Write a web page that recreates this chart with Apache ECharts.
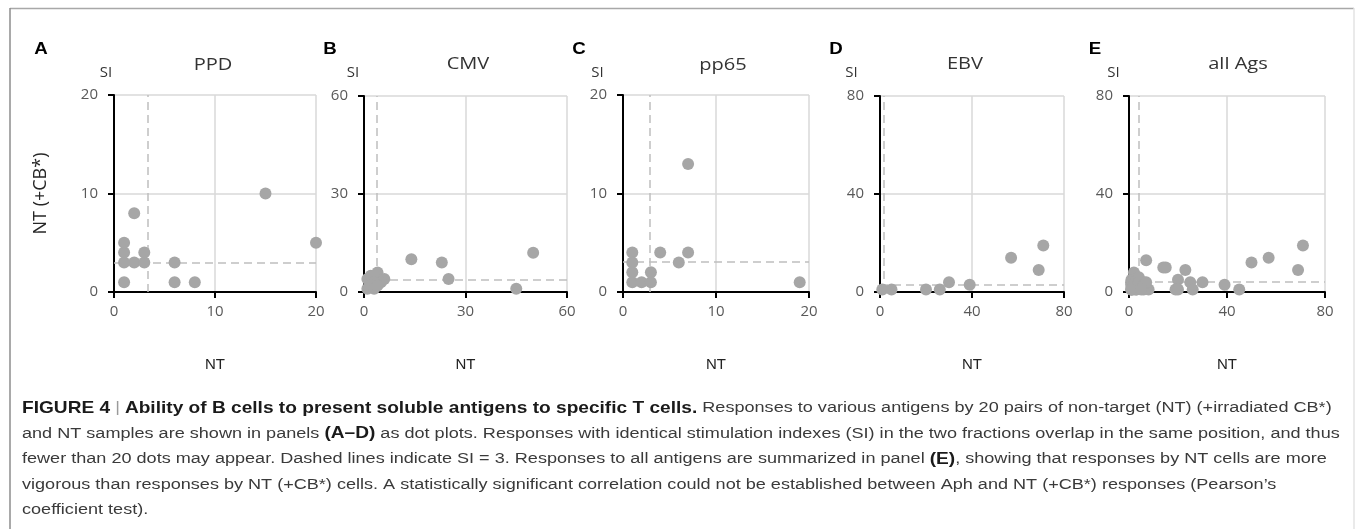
<!DOCTYPE html>
<html>
<head>
<meta charset="utf-8">
<script src="https://cdn.jsdelivr.net/npm/echarts@6/dist/echarts.min.js"></script>
<style>
html,body{margin:0;padding:0;background:#fff;}
#chart{width:1355px;height:529px;}
</style>
</head>
<body>
<div id="chart"></div>
<script>
// ---- data (NT SI, NT(+CB*) SI) ----
const ppd  = [[1,1],[1,3],[1,4],[1,5],[2,3],[2,8],[3,3],[3,4],[6,3],[6,1],[8,1],[15,10],[20,5]];
const cmv  = [[1,4],[2,5],[4,6],[6,4],[5,3],[3,3],[2,2],[1,1],[3,1],[4,2],[14,10],[23,9],[25,4],[45,1],[50,12]];
const pp65 = [[1,4],[1,3],[1,2],[1,1],[2,1],[3,1],[3,2],[4,4],[6,3],[7,4],[7,13],[19,1]];
const ebv  = [[1,1],[5,1],[20,1],[26,1],[30,4],[39,3],[57,14],[69,9],[71,19]];
const allAgs = [...ppd, ...cmv, ...pp65, ...ebv];

const panelData   = [ppd, cmv, pp65, ebv, allAgs];
const panelTitles = ['PPD', 'CMV', 'pp65', 'EBV', 'all Ags'];
const panelLetters = ['A', 'B', 'C', 'D', 'E'];
const axisMax      = [20, 60, 20, 80, 80];
const axisInterval = [10, 30, 10, 40, 40];
const cutoffX = [3.3, 3.9, 2.9, 1.5, 3.8];
const cutoffY = [3, 3.9, 3.1, 3, 4];
const captionLines = [
  '{b|FIGURE 4} {g|\u007C} {b|Ability of B cells to present soluble antigens to specific T cells.} Responses to various antigens by 20 pairs of non-target (NT) (+irradiated CB*)',
  'and NT samples are shown in panels {b|(A\u2013D)} as dot plots. Responses with identical stimulation indexes (SI) in the two fractions overlap in the same position, and thus',
  'fewer than 20 dots may appear. Dashed lines indicate SI = 3. Responses to all antigens are summarized in panel {b|(E)}, showing that responses by NT cells are more',
  'vigorous than responses by NT (+CB*) cells. A statistically significant correlation could not be established between Aph and NT (+CB*) responses (Pearson\u2019s',
  'coefficient test).'
];

// ---- layout ----
const grids = [
  {left:114, top:95, width:202, height:197},
  {left:364, top:96, width:203, height:196},
  {left:623, top:95, width:186, height:197},
  {left:880, top:96, width:184, height:196},
  {left:1129, top:96, width:196, height:196}
];
const titlePos  = [[213,65],[468,64],[723,65],[965,64],[1238,64]];
const letterPos = [[41,49],[330,49],[579,49],[836,49],[1095,49]];
const siPos     = [[106,72.5],[353,72.5],[597.5,72.5],[851.5,72.5],[1113.5,72.5]];

const tickFont = 'Open Sans';
function axisCommon(i){
  return {
    type:'value', gridIndex:i, min:0, max:axisMax[i], interval:axisInterval[i],
    axisLine:{show:true, onZero:false, lineStyle:{color:'#000', width:2}},
    axisTick:{show:true, inside:false, length:6, lineStyle:{color:'#000', width:2}},
    splitLine:{show:true, lineStyle:{color:'#d9d9d9', width:1.5}},
    axisLabel:{color:'#595959', fontSize:15, fontFamily:tickFont}
  };
}
const xAxes = grids.map((g,i)=>Object.assign(axisCommon(i), {
  name:'NT', nameLocation:'middle', nameGap:65,
  nameTextStyle:{fontFamily:'Liberation Sans', fontSize:15, color:'#222'},
  axisLabel:{color:'#595959', fontSize:15, fontFamily:tickFont, margin:12}
}));
const yAxes = grids.map((g,i)=>{
  const a = axisCommon(i);
  a.axisLabel = {color:'#595959', fontSize:15, fontFamily:tickFont, margin:16};
  if(i===0){
    a.name = 'NT (+CB*)'; a.nameLocation='middle'; a.nameGap=64;
    a.nameTextStyle = {fontFamily:tickFont, fontSize:18, color:'#262626'};
  }
  return a;
});

const series = panelData.map((d,i)=>({
  type:'scatter', xAxisIndex:i, yAxisIndex:i, data:d, symbolSize:12, z:10,
  itemStyle:{color:'#a6a6a6', opacity:1},
  markLine:{
    silent:true, symbol:'none', animation:false,
    label:{show:false},
    lineStyle:{color:'#bfbfbf', width:1.5, type:[8,5]},
    data:[{xAxis:cutoffX[i]},{yAxis:cutoffY[i]}]
  }
}));

const graphic = [];
panelTitles.forEach((t,i)=>graphic.push({type:'text', x:titlePos[i][0], y:titlePos[i][1], scaleX:1.18,
  style:{text:t, font:'17px "Open Sans"', fill:'#333', align:'center', verticalAlign:'middle'}}));
panelLetters.forEach((t,i)=>graphic.push({type:'text', x:letterPos[i][0], y:letterPos[i][1], scaleX:1.1,
  style:{text:t, font:'bold 17px "Liberation Sans"', fill:'#000', align:'center', verticalAlign:'middle'}}));
siPos.forEach((p)=>graphic.push({type:'text', x:p[0], y:p[1],
  style:{text:'SI', font:'15px "Open Sans"', fill:'#333', align:'center', verticalAlign:'middle'}}));
const capFont = 'Liberation Sans';
captionLines.forEach((line,i)=>graphic.push({type:'text', x:22, y:408 + i*25.5, scaleX:1.166,
  style:{text:line, fontFamily:capFont, fontSize:15.5, fill:'#3a3a3a', align:'left', verticalAlign:'middle',
    rich:{
      b:{fontFamily:capFont, fontSize:16.4, fontWeight:'bold', fill:'#1a1a1a', color:'#1a1a1a'},
      g:{fontFamily:capFont, fontSize:15.5, color:'#9a9a9a', fill:'#9a9a9a'}
    }}}));
// figure frame
graphic.push({type:'line', shape:{x1:10, y1:8.5, x2:1354, y2:8.5}, style:{stroke:'#a8a8a8', lineWidth:1.5}});
graphic.push({type:'line', shape:{x1:10, y1:8, x2:10, y2:529}, style:{stroke:'#8c8c8c', lineWidth:1.5}});
graphic.push({type:'line', shape:{x1:1354, y1:8, x2:1354, y2:529}, style:{stroke:'#e3e3e3', lineWidth:1.5}});

const chart = echarts.init(document.getElementById('chart'), null, {renderer:'canvas'});
chart.setOption({
  animation:false,
  backgroundColor:'#fff',
  grid:grids,
  xAxis:xAxes,
  yAxis:yAxes,
  series:series,
  graphic:graphic
});
</script>
</body>
</html>
